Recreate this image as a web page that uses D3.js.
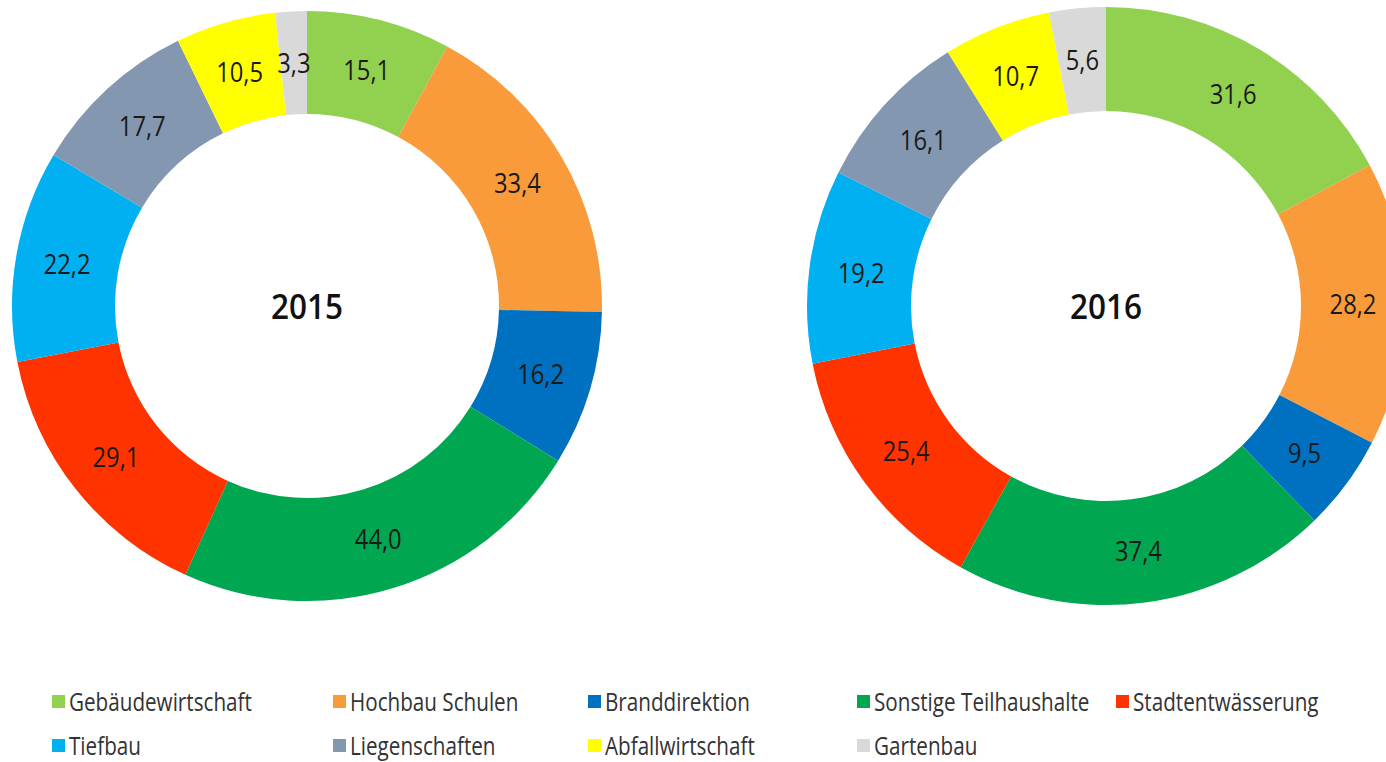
<!DOCTYPE html>
<html>
<head>
<meta charset="utf-8">
<script src="https://cdn.jsdelivr.net/npm/d3@7"></script>
<style>
  html, body { margin: 0; padding: 0; background: #fff; overflow: hidden; }
  svg { display: block; font-family: "Open Sans", "Noto Sans", sans-serif; }
</style>
</head>
<body>
<svg width="1386" height="762"></svg>
<script>
// Data
var categories = ["Gebäudewirtschaft", "Hochbau Schulen", "Branddirektion", "Sonstige Teilhaushalte",
                  "Stadtentwässerung", "Tiefbau", "Liegenschaften", "Abfallwirtschaft", "Gartenbau"];
var values2015 = [15.1, 33.4, 16.2, 44.0, 29.1, 22.2, 17.7, 10.5, 3.3];
var values2016 = [31.6, 28.2, 9.5, 37.4, 25.4, 19.2, 16.1, 10.7, 5.6];
var years = ["2015", "2016"];

var colors = ["#92D050", "#F99B3A", "#0070C0", "#00A650", "#FF3300", "#00B0F0", "#8497B0", "#FFFF00", "#D9D9D9"];

var svg = d3.select("svg"),
    width = +svg.attr("width"),
    height = +svg.attr("height");

var color = d3.scaleOrdinal().domain(categories).range(colors);
var fmt = v => d3.format(".1f")(v).replace(".", ",");

// layout of the two rings
var rings = [
  {year: years[0], values: values2015, cx: 307, cy: 306, outer: 295, inner: 192},
  {year: years[1], values: values2016, cx: 1106, cy: 306, outer: 299, inner: 195}
];

var pie = d3.pie().sort(null).value(d => d.value);

rings.forEach(function(r) {
  var data = categories.map((c, i) => ({name: c, value: r.values[i]}));
  var arc = d3.arc().innerRadius(r.inner).outerRadius(r.outer);
  var mid = (r.inner + r.outer) / 2;
  var labelArc = d3.arc().innerRadius(mid).outerRadius(mid);

  var g = svg.append("g").attr("transform", `translate(${r.cx},${r.cy})`);

  g.selectAll("path")
    .data(pie(data))
    .join("path")
      .attr("fill", d => color(d.data.name))
      .attr("d", arc);

  // labels a bit narrower than the default font, like the original
  g.selectAll("text.lbl")
    .data(pie(data))
    .join("text")
      .attr("class", "lbl")
      .attr("transform", d => `translate(${labelArc.centroid(d)}) scale(0.88,1)`)
      .attr("text-anchor", "middle")
      .attr("dy", "0.36em")
      .attr("font-size", 27)
      .attr("fill", "#1a1a1a")
      .text(d => fmt(d.data.value));

  g.append("text")
    .attr("transform", "scale(0.9,1)")
    .attr("text-anchor", "middle")
    .attr("dy", "0.36em")
    .attr("font-size", 35)
    .attr("font-weight", 600)
    .attr("fill", "#111")
    .text(r.year);
});

// Legend
var legendCols = [52, 333, 588, 857, 1116];
var legendRows = [702, 746];
var perRow = 5;

var legend = svg.append("g").attr("class", "legend");
var items = legend.selectAll("g")
  .data(categories)
  .join("g")
    .attr("transform", (d, i) => `translate(${legendCols[i % perRow]},${legendRows[Math.floor(i / perRow)]})`);

items.append("rect")
  .attr("x", 0)
  .attr("y", -7)
  .attr("width", 13)
  .attr("height", 13)
  .attr("fill", d => color(d));

var legendText = items.append("text")
  .attr("x", 17)
  .attr("dy", "0.36em")
  .attr("font-size", 26)
  .attr("fill", "#333")
  .text(d => d);

// the legend font in the picture is condensed; squeeze to match
var w0 = legendText.filter((d, i) => i === 0).node().getComputedTextLength();
var squeeze = 183 / w0;
legendText.attr("transform", `translate(17,0) scale(${squeeze},1) translate(-17,0)`);
</script>
</body>
</html>
